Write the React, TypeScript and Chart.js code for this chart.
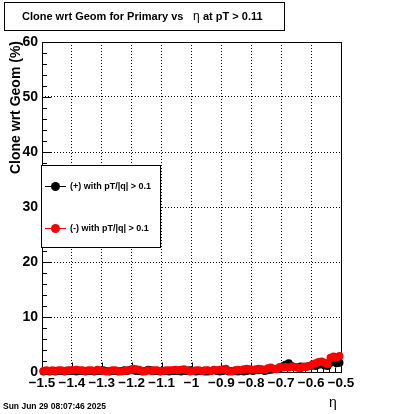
import { useEffect, useRef } from 'react';
import { Chart, registerables } from 'chart.js';

Chart.register(...registerables);

const FONT = "'Liberation Sans', Arial, Helvetica, sans-serif";

const titleText = 'Clone wrt Geom for Primary vs';
const titleEta = 'η';
const titleTail = 'at pT > 0.11';
const yTitle = 'Clone wrt Geom (%)';
const xTitle = 'η';
const dateText = 'Sun Jun 29 08:07:46 2025';
const seriesLabels = ['(+) with pT/|q| > 0.1', '(-) with pT/|q| > 0.1'];
const seriesColors = ['#000000', '#ff0000'];

const xTickValues = [-1.5, -1.4, -1.3, -1.2, -1.1, -1.0, -0.9, -0.8, -0.7, -0.6, -0.5];
const yTickValues = [0, 10, 20, 30, 40, 50, 60];

const etaCenters = [
  -1.495, -1.485, -1.475, -1.465, -1.455, -1.445, -1.435, -1.425, -1.415, -1.405,
  -1.395, -1.385, -1.375, -1.365, -1.355, -1.345, -1.335, -1.325, -1.315, -1.305,
  -1.295, -1.285, -1.275, -1.265, -1.255, -1.245, -1.235, -1.225, -1.215, -1.205,
  -1.195, -1.185, -1.175, -1.165, -1.155, -1.145, -1.135, -1.125, -1.115, -1.105,
  -1.095, -1.085, -1.075, -1.065, -1.055, -1.045, -1.035, -1.025, -1.015, -1.005,
  -0.995, -0.985, -0.975, -0.965, -0.955, -0.945, -0.935, -0.925, -0.915, -0.905,
  -0.895, -0.885, -0.875, -0.865, -0.855, -0.845, -0.835, -0.825, -0.815, -0.805,
  -0.795, -0.785, -0.775, -0.765, -0.755, -0.745, -0.735, -0.725, -0.715, -0.705,
  -0.695, -0.685, -0.675, -0.665, -0.655, -0.645, -0.635, -0.625, -0.615, -0.605,
  -0.595, -0.585, -0.575, -0.565, -0.555, -0.545, -0.535, -0.525, -0.515, -0.505,
];

const positiveClone = [
  0.1, 0.2, 0.1, 0.2, 0.1, 0.2, 0.2, 0.1, 0.2, 0.2,
  0.2, 0.1, 0.2, 0.2, 0.1, 0.2, 0.2, 0.1, 0.2, 0.2,
  0.3, 0.2, 0.1, 0.2, 0.2, 0.1, 0.2, 0.3, 0.2, 0.4,
  0.3, 0.2, 0.2, 0.1, 0.2, 0.4, 0.3, 0.2, 0.2, 0.1,
  0.2, 0.2, 0.1, 0.2, 0.2, 0.2, 0.1, 0.2, 0.2, 0.3,
  0.2, 0.1, 0.2, 0.2, 0.1, 0.1, 0.2, 0.3, 0.2, 0.1,
  0.2, 0.3, 0.1, 0.2, 0.2, 0.1, 0.2, 0.1, 0.2, 0.3,
  0.2, 0.3, 0.3, 0.4, 0.2, 0.3, 0.4, 0.5, 0.6, 0.7,
  1.0, 1.3, 1.6, 1.1, 0.9, 0.8, 1.0, 0.9, 1.0, 1.1,
  1.2, 1.1, 1.3, 1.4, 1.2, 1.1, 1.7, 1.8, 1.6, 1.7,
];

const negativeClone = [
  0.2, 0.3, 0.2, 0.3, 0.2, 0.3, 0.3, 0.2, 0.3, 0.3,
  0.3, 0.4, 0.3, 0.3, 0.2, 0.3, 0.3, 0.2, 0.4, 0.3,
  0.2, 0.1, 0.2, 0.3, 0.3, 0.2, 0.1, 0.2, 0.3, 0.3,
  0.6, 0.5, 0.4, 0.2, 0.1, 0.3, 0.2, 0.3, 0.3, 0.2,
  0.2, 0.3, 0.3, 0.3, 0.4, 0.3, 0.4, 0.5, 0.3, 0.1,
  0.2, 0.3, 0.3, 0.2, 0.3, 0.3, 0.2, 0.4, 0.3, 0.4,
  0.5, 0.6, 0.2, 0.1, 0.3, 0.4, 0.3, 0.5, 0.6, 0.5,
  0.4, 0.5, 0.6, 0.5, 0.4, 0.7, 0.8, 0.6, 0.5, 0.9,
  0.8, 0.9, 0.8, 1.0, 0.9, 0.8, 0.7, 1.0, 0.9, 1.1,
  1.4, 1.6, 1.8, 1.9, 1.7, 1.4, 2.6, 2.8, 2.7, 2.9,
];

const fmtTick = (v: number) => {
  const r = Math.round(v * 10) / 10;
  return (r < 0 ? '\u2212' : '') + String(Math.abs(r));
};

const rootPlugin = {
  id: 'rootDecor',
  beforeDatasetsDraw(chart: any) {
    const { ctx, chartArea: a, scales } = chart;
    const xs = scales.x;
    const ys = scales.y;
    const L = Math.round(a.left) + 0.5;
    const R = Math.round(a.right) + 0.5;
    const T = Math.round(a.top) + 0.5;
    const B = Math.round(a.bottom) + 0.5;
    ctx.save();
    ctx.strokeStyle = '#000';
    ctx.lineWidth = 1;
    ctx.setLineDash([]);
    ctx.strokeRect(L, T, R - L, B - T);
    ctx.beginPath();
    for (let i = 0; i < yTickValues.length; i++) {
      const py = Math.round(ys.getPixelForValue(yTickValues[i])) + 0.5;
      ctx.moveTo(L, py);
      ctx.lineTo(L + 9, py);
      if (i < yTickValues.length - 1) {
        const step = (yTickValues[i + 1] - yTickValues[i]) / 5;
        for (let k = 1; k < 5; k++) {
          const my = Math.round(ys.getPixelForValue(yTickValues[i] + step * k)) + 0.5;
          ctx.moveTo(L, my);
          ctx.lineTo(L + 4.5, my);
        }
      }
    }
    for (let i = 0; i < xTickValues.length; i++) {
      const px = Math.round(xs.getPixelForValue(xTickValues[i])) + 0.5;
      ctx.moveTo(px, B);
      ctx.lineTo(px, B - 10);
      if (i < xTickValues.length - 1) {
        const step = (xTickValues[i + 1] - xTickValues[i]) / 5;
        for (let k = 1; k < 5; k++) {
          const mx = Math.round(xs.getPixelForValue(xTickValues[i] + step * k)) + 0.5;
          ctx.moveTo(mx, B);
          ctx.lineTo(mx, B - 5);
        }
      }
    }
    ctx.stroke();
    ctx.restore();
  },
  afterDraw(chart: any) {
    const { ctx, chartArea: a } = chart;
    ctx.save();
    ctx.setLineDash([]);
    ctx.strokeStyle = '#000';
    ctx.lineWidth = 1;

    // title box
    ctx.fillStyle = '#fff';
    ctx.fillRect(4.5, 2.5, 280, 28);
    ctx.strokeRect(4.5, 2.5, 280, 28);
    ctx.fillStyle = '#000';
    ctx.textBaseline = 'middle';
    ctx.textAlign = 'left';
    ctx.font = `bold 11px ${FONT}`;
    ctx.fillText(titleText, 22, 17);
    ctx.font = `12px ${FONT}`;
    ctx.fillText(titleEta, 193, 17);
    ctx.font = `bold 11px ${FONT}`;
    ctx.fillText(titleTail, 203, 17);

    // y title
    ctx.save();
    ctx.translate(20, a.top - 1);
    ctx.rotate(-Math.PI / 2);
    ctx.font = `bold 14px ${FONT}`;
    ctx.textAlign = 'right';
    ctx.textBaseline = 'alphabetic';
    ctx.fillText(yTitle, 0, 0);
    ctx.restore();

    // x title
    ctx.font = `14px ${FONT}`;
    ctx.textAlign = 'center';
    ctx.textBaseline = 'alphabetic';
    ctx.fillText(xTitle, 333, 407);

    // date
    ctx.font = `bold 8.5px ${FONT}`;
    ctx.textAlign = 'left';
    ctx.fillText(dateText, 3, 409);

    // legend
    ctx.fillStyle = '#fff';
    ctx.fillRect(41.5, 165.5, 119, 82);
    ctx.strokeRect(41.5, 165.5, 119, 82);
    const ly = [186, 228];
    for (let i = 0; i < 2; i++) {
      const y = ly[i] + 0.5;
      ctx.strokeStyle = seriesColors[i];
      ctx.fillStyle = seriesColors[i];
      ctx.beginPath();
      ctx.moveTo(45, y);
      ctx.lineTo(66, y);
      ctx.stroke();
      ctx.beginPath();
      ctx.arc(55.5, y, 4.5, 0, Math.PI * 2);
      ctx.fill();
      ctx.fillStyle = '#000';
      ctx.font = `bold 9px ${FONT}`;
      ctx.textBaseline = 'middle';
      ctx.textAlign = 'left';
      ctx.fillText(seriesLabels[i], 70, y + 0.5);
    }
    ctx.restore();
  },
};

export default function App() {
  const ref = useRef<HTMLCanvasElement>(null);
  useEffect(() => {
    if (!ref.current) return;
    const chart = new Chart(ref.current, {
      type: 'scatter',
      data: {
        datasets: [
          {
            label: seriesLabels[0],
            data: etaCenters.map((x, i) => ({ x, y: positiveClone[i] })),
            backgroundColor: seriesColors[0],
            borderColor: seriesColors[0],
            pointRadius: 4,
            pointBorderWidth: 0,
            showLine: false,
            clip: false,
            order: 1,
          },
          {
            label: seriesLabels[1],
            data: etaCenters.map((x, i) => ({ x, y: negativeClone[i] })),
            backgroundColor: seriesColors[1],
            borderColor: seriesColors[1],
            pointRadius: 4,
            pointBorderWidth: 0,
            showLine: false,
            clip: false,
            order: 0,
          },
        ],
      },
      options: {
        responsive: false,
        animation: false,
        devicePixelRatio: 1,
        layout: { padding: { left: 0, right: 59, top: 42, bottom: 0 } },
        plugins: { legend: { display: false }, tooltip: { enabled: false } },
        scales: {
          x: {
            type: 'linear',
            min: -1.5,
            max: -0.5,
            afterBuildTicks: (s: any) => {
              s.ticks = xTickValues.map((v) => ({ value: v }));
            },
            afterFit: (s: any) => {
              s.height = 42;
            },
            ticks: {
              autoSkip: false,
              maxRotation: 0,
              minRotation: 0,
              padding: 3,
              color: '#000',
              font: { family: FONT, size: 13.5, weight: 'bold' },
              callback: (v: any) => fmtTick(Number(v)),
            },
            grid: { color: '#000', lineWidth: 1, drawTicks: false },
            border: { display: false, dash: [1, 2] },
          },
          y: {
            type: 'linear',
            min: 0,
            max: 60,
            afterBuildTicks: (s: any) => {
              s.ticks = yTickValues.map((v) => ({ value: v }));
            },
            afterFit: (s: any) => {
              s.width = 42;
            },
            ticks: {
              padding: 4,
              color: '#000',
              font: { family: FONT, size: 14, weight: 'bold' },
              callback: (v: any) => String(v),
            },
            grid: { color: '#000', lineWidth: 1, drawTicks: false },
            border: { display: false, dash: [1, 2] },
          },
        },
      },
      plugins: [rootPlugin],
    } as any);
    return () => chart.destroy();
  }, []);
  return (
    <div style={{ position: 'fixed', left: 0, top: 0, width: 400, height: 414, background: '#fff' }}>
      <canvas ref={ref} width={400} height={414} style={{ display: 'block', width: 400, height: 414 }} />
    </div>
  );
}
